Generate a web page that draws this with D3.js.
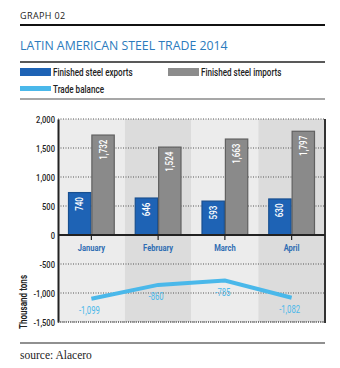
<!DOCTYPE html>
<html><head><meta charset="utf-8">
<script src="https://cdn.jsdelivr.net/npm/d3@7"></script>
<style>
html,body{margin:0;padding:0;background:#fff;}
svg{display:block;}
</style></head>
<body>
<svg id="c" width="340" height="368"></svg>
<script>
const months = ["January","February","March","April"];
const exportsData = [740, 646, 593, 630];
const importsData = [1732, 1524, 1663, 1797];
const balanceData = [-1099, -860, -785, -1082];
const yTicks = [2000, 1500, 1000, 500, 0, -500, -1000, -1500];

const svg = d3.select("#c");
const f0 = d3.format(",");
const fmt = d => d < 0 ? "-" + f0(-d) : f0(d);
const CF = "Roboto, sans-serif";

// measure a condensing factor so the legend label matches the reference width
const probe = svg.append("text").attr("font-family",CF).attr("font-size",10.5).text("Finished steel exports");
const S = Math.min(1, 79 / probe.node().getComputedTextLength());
probe.remove();

function condText(parent, x, y, txt, size, extra) {
  return parent.append("text").attr("font-family",CF).attr("font-size",size)
    .attr("transform",`translate(${x},${y})${extra||""} scale(${S},1)`).text(txt);
}

// Header
svg.append("text").attr("x",20).attr("y",19).text("GRAPH 02")
  .attr("font-family","Open Sans, sans-serif").attr("font-size",9).attr("fill","#222").attr("letter-spacing",0.4);
svg.append("line").attr("x1",20).attr("x2",325).attr("y1",25).attr("y2",25).attr("stroke","#111").attr("stroke-width",2);
svg.append("text").attr("x",20).attr("y",50).text("LATIN AMERICAN STEEL TRADE 2014")
  .attr("font-family","Open Sans, sans-serif").attr("font-size",12.3).attr("fill","#2b7bbd");
svg.append("line").attr("x1",20).attr("x2",325).attr("y1",62).attr("y2",62).attr("stroke","#222").attr("stroke-width",1.5);

// Legend
const leg = [
  {label:"Finished steel exports", color:"#1e63b5", x:20, y:68, h:8},
  {label:"Finished steel imports", color:"#8c8c8c", x:168, y:68, h:8},
  {label:"Trade balance", color:"#4ab8ea", x:20, y:86, h:5}
];
leg.forEach(l=>{
  svg.append("rect").attr("x",l.x).attr("y",l.y).attr("width",31).attr("height",l.h).attr("fill",l.color);
  condText(svg, l.x+33, l.h===8 ? l.y+8 : l.y+6.5, l.label, 10.5).attr("fill","#222").attr("font-weight","500");
});
svg.append("line").attr("x1",20).attr("x2",325).attr("y1",99).attr("y2",99).attr("stroke","#8a8a8a").attr("stroke-width",1.5);

// Scales
const x = d3.scaleBand().domain(months).range([58,325]).padding(0);
const y = d3.scaleLinear().domain([-1500,2000]).range([322,119]);
const bw = x.bandwidth();
const x1 = d3.scaleBand().domain(["exp","imp"]).range([10, bw-10]).padding(0);

// background bands
svg.append("g").selectAll("rect").data(months).join("rect")
  .attr("x",d=>x(d)).attr("y",y(2000)).attr("width",bw).attr("height",y(-1500)-y(2000))
  .attr("fill",(d,i)=> i%2===0 ? "#ececec" : "#dcdcdc");

// grid
svg.append("g").selectAll("line").data(yTicks.filter(t=>t!==0)).join("line")
  .attr("x1",58).attr("x2",325).attr("y1",d=>y(d)).attr("y2",d=>y(d))
  .attr("stroke","#555").attr("stroke-width",1).attr("stroke-dasharray","1,1.5");

// bars
const g = svg.append("g");
months.forEach((m,i)=>{
  const bars = [{k:"exp",v:exportsData[i],f:"#1e63b5",s:"#184f8f"},{k:"imp",v:importsData[i],f:"#8a8a8a",s:"#606060"}];
  bars.forEach(b=>{
    const bx = x(m)+x1(b.k);
    g.append("rect").attr("x",bx+0.5).attr("y",y(b.v)+0.5).attr("width",x1.bandwidth()-1).attr("height",y(0)-y(b.v)-0.5)
      .attr("fill",b.f).attr("stroke",b.s).attr("stroke-width",1.2);
    const cx = bx + x1.bandwidth()/2;
    condText(g, cx+3.5, y(b.v)+5, fmt(b.v), 10.5, " rotate(-90)")
      .attr("text-anchor","end").attr("fill","#fff").attr("font-weight","500");
  });
});

// y axis
const yAxis = d3.axisLeft(y).tickValues(yTicks).tickSize(0).tickPadding(4).tickFormat(fmt);
const ya = svg.append("g").attr("transform","translate(58,0)").call(yAxis);
ya.select(".domain").attr("stroke","#222").attr("stroke-width",2);
ya.selectAll("text").attr("font-family",CF).attr("font-size",9.8).attr("fill","#222").attr("font-weight","500")
  .attr("transform",`scale(${S},1)`);

// right border
svg.append("line").attr("x1",325).attr("x2",325).attr("y1",y(2000)).attr("y2",y(-1500)+1).attr("stroke","#333").attr("stroke-width",2);
svg.append("line").attr("x1",58).attr("x2",325).attr("y1",y(-1500)).attr("y2",y(-1500)).attr("stroke","#444").attr("stroke-width",1).attr("stroke-dasharray","1,1");

// zero line + ticks
const xAxis = d3.axisBottom(x).tickSize(5).tickPadding(4);
const xa = svg.append("g").attr("transform",`translate(0,${y(0)})`).call(xAxis);
xa.select(".domain").attr("stroke","#222").attr("stroke-width",2).attr("d",`M58,0H325`);
xa.selectAll(".tick line").attr("stroke","#222").attr("stroke-width",1.2);
xa.selectAll("text").attr("font-family",CF).attr("font-size",9.8).attr("font-weight","bold").attr("fill","#2f6db3")
  .attr("transform",`scale(${S},1)`);

// balance line
const line = d3.line().x((d,i)=>x(months[i])+bw/2).y(d=>y(d));
svg.append("path").datum(balanceData).attr("d",line).attr("fill","none")
  .attr("stroke","#4ab8ea").attr("stroke-width",4);
const lg = svg.append("g");
balanceData.forEach((d,i)=>{
  condText(lg, x(months[i])+bw/2-2, y(d)+15, fmt(d), 10).attr("text-anchor","middle").attr("fill","#4ab8ea");
});

// y title
condText(svg, 27, 302, "Thousand tons", 10.5, " rotate(-90)")
  .attr("text-anchor","middle").attr("font-weight","bold").attr("fill","#222");

// bottom
svg.append("line").attr("x1",20).attr("x2",325).attr("y1",343).attr("y2",343).attr("stroke","#222").attr("stroke-width",1.2);
svg.append("text").attr("x",20).attr("y",359).text("source: Alacero")
  .attr("font-family","Liberation Serif, serif").attr("font-size",11.5).attr("fill","#222");
</script>
</body></html>
